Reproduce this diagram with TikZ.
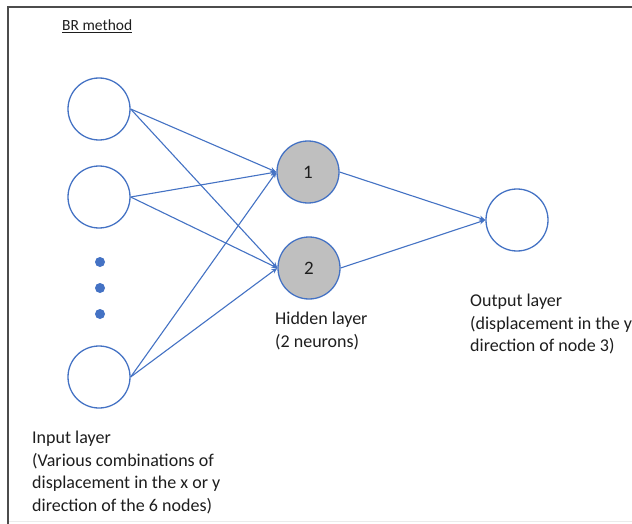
\documentclass[tikz,border=0pt]{standalone}
\usepackage{fontspec}
\setmainfont{Carlito}
\usetikzlibrary{arrows.meta}
\definecolor{netblue}{HTML}{4472C4}
\definecolor{hidgray}{HTML}{BFBFBF}
\definecolor{txt}{HTML}{1E1E1E}
\begin{document}
\begin{tikzpicture}[x=1pt,y=-1pt,
  neuron/.style={circle,draw=netblue,line width=1.3pt,minimum size=62pt,inner sep=0pt,fill=white},
  hidden/.style={neuron,fill=hidgray,text=txt,font=\fontsize{19}{22}\selectfont},
  link/.style={draw=netblue,line width=1.1pt,-{Stealth[length=6pt,width=5pt]}},
  txtlabel/.style={anchor=north west,inner sep=0pt,align=left,text=txt,font=\fontsize{18}{22.5}\selectfont},
  dotmark/.style={circle,fill=netblue,inner sep=0pt,minimum size=10pt}]
\useasboundingbox (0,0) rectangle (632,524);
\fill[white] (0,0) rectangle (632,524);
% frame
\draw[black!8,line width=1pt] (8,521) -- (640,521);
\draw[black!70,line width=1.8pt] (8,524) -- (8,7) -- (640,7);

% title
\node[anchor=base west,inner sep=0pt,text=txt,font=\fontsize{15.5}{18}\selectfont] (title) at (62,31) {\underline{BR method}};

% input layer
\node[neuron] (in1) at (99,109) {};
\node[neuron] (in2) at (99,197) {};
\node[neuron] (in3) at (99,377) {};
\node[dotmark] (d1) at (100,262) {};
\node[dotmark] (d2) at (100,288) {};
\node[dotmark] (d3) at (100,314) {};

% hidden layer
\node[hidden] (h1) at (308,172) {1};
\node[hidden] (h2) at (309,268) {2};

% output layer
\node[neuron] (out) at (517,220) {};

% connections
\foreach \i in {in1,in2,in3}{
  \draw[link] (\i.east) -- (h1.west);
  \draw[link] (\i.east) -- (h2.west);
}
\draw[link] (h1.east) -- (out.west);
\draw[link] (h2.east) -- (out.west);

% captions
\node[txtlabel] (hidlab) at (275,312) {Hidden layer\\(2 neurons)};
\node[txtlabel] (outlab) at (470,294) {Output layer\\(displacement in the y\\direction of node 3)};
\node[txtlabel] (inlab) at (32,431) {Input layer\\(Various combinations of\\displacement in the x or y\\direction of the 6 nodes)};
\end{tikzpicture}
\end{document}
